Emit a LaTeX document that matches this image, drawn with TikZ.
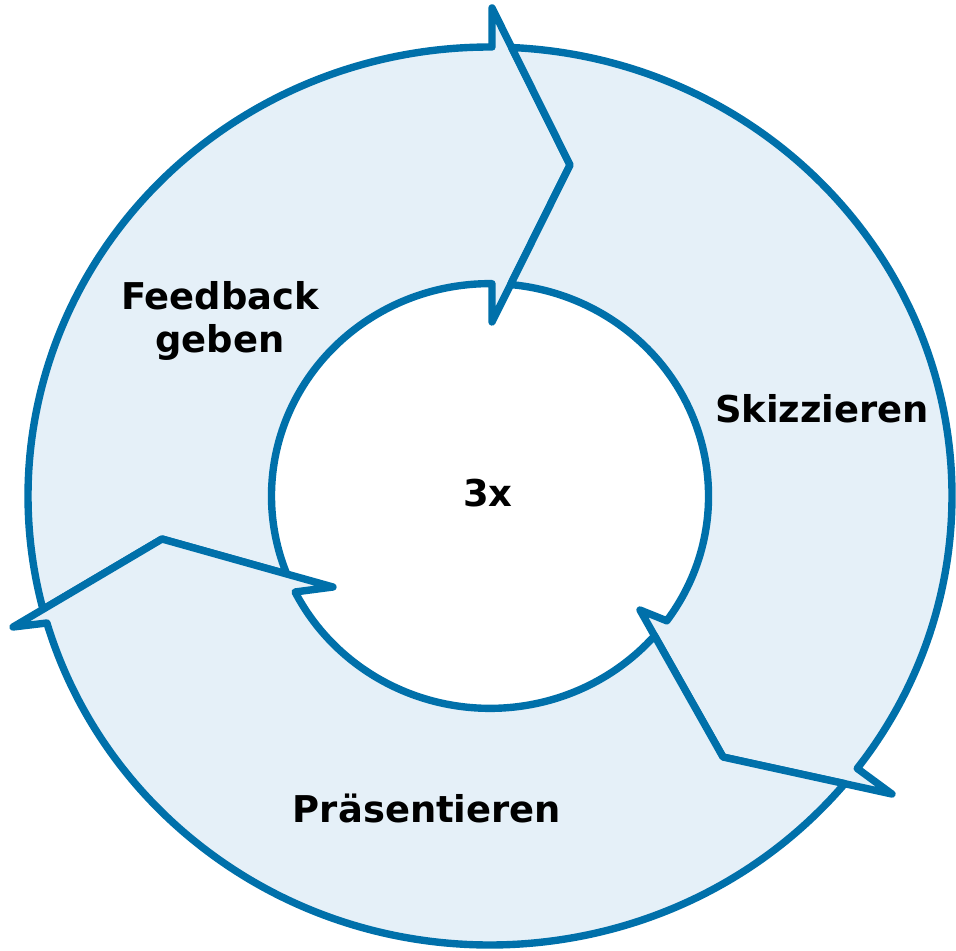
\documentclass[tikz,border=0pt]{standalone}
\usepackage{fontspec}
\setmainfont{DejaVu Sans}
\definecolor{ringblue}{RGB}{0,112,170}
\definecolor{ringfill}{RGB}{229,240,248}
\tikzset{
  seg/.style={draw=ringblue, fill=ringfill, line width=2.1pt, line join=round},
  lbl/.style={font=\bfseries\fontsize{10.5}{12.4}\selectfont, text=black, inner sep=0pt}
}
\begin{document}
\begin{tikzpicture}
\useasboundingbox (0,0) rectangle (9.56,9.50);
\begin{scope}[shift={(4.90,4.54)}, xscale=4.62, yscale=4.49]
  \coordinate (A2) at (0.00433,1.0869);
  \coordinate (A3) at (0.1732,0.7372);
  \coordinate (A4) at (0.00433,0.3875);
  \coordinate (B2) at (0.87013,-0.66370);
  \coordinate (B3) at (0.50433,-0.58129);
  \coordinate (B4) at (0.32468,-0.25390);
  \coordinate (C2) at (-1.03247,-0.29176);
  \coordinate (C3) at (-0.70996,-0.09577);
  \coordinate (C4) at (-0.33983,-0.20267);
  % Feedback geben
  \path[seg] (194.62:1) arc[start angle=194.62, end angle=89.75, radius=1]
     -- (A2) -- (A3) -- (A4) -- (89.48:0.473)
     arc[start angle=89.48, end angle=201.55, radius=0.473] -- (C3) -- cycle;
  % Skizzieren
  \path[seg] (87.32:1) arc[start angle=87.32, end angle=-37.36, radius=1]
     -- (B2) -- (B3) -- (B4) -- (-36.0:0.473)
     arc[start angle=-36.0, end angle=84.59, radius=0.473] -- (A3) -- cycle;
  % Praesentieren
  \path[seg] (-39.84:1) arc[start angle=-39.84, end angle=-163.57, radius=1]
     -- (C2) -- (C3) -- (C4) -- (206.87:0.473)
     arc[start angle=206.87, end angle=318.85, radius=0.473] -- (B3) -- cycle;
\end{scope}
\node[lbl, anchor=base] (t3x) at (4.88,4.43) {3x};
\node[lbl, anchor=base] (tsk) at (8.22,5.27) {Skizzieren};
\node[lbl, anchor=base] (tpr) at (4.27,1.27) {Präsentieren};
\node[lbl, align=center, anchor=base] (tfb) at (2.20,5.97) {Feedback\\geben};
\end{tikzpicture}
\end{document}
